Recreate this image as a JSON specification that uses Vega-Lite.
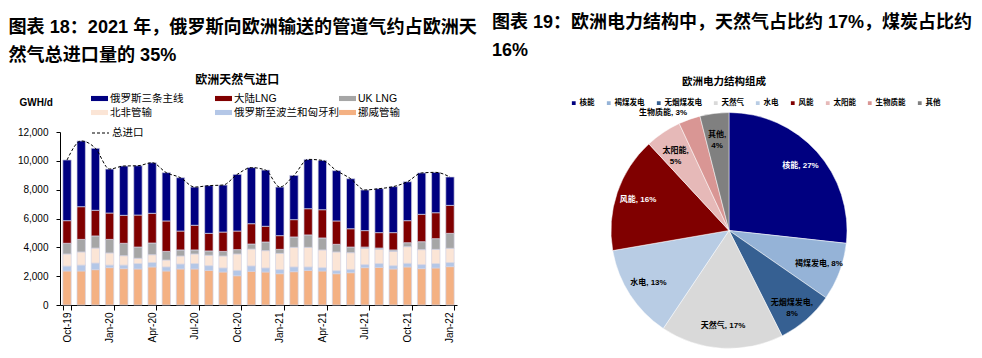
{
  "$schema": "https://vega.github.io/schema/vega-lite/v6.json",
  "background": "white",
  "padding": {"left": 8, "top": 13, "right": 0, "bottom": 0},
  "spacing": 15,
  "config": {
    "font": "Liberation Sans, Noto Sans CJK SC",
    "view": {"stroke": null},
    "title": {"color": "#000", "font": "Liberation Sans, Noto Sans CJK SC"},
    "axis": {"labelColor": "#000", "domainColor": "#000", "tickColor": "#000", "titleColor": "#000", "grid": false},
    "legend": {"labelColor": "#000"}
  },
  "datasets": {
    "series": [
      {"s": "挪威管输", "k": 1},
      {"s": "俄罗斯至波兰和匈牙利", "k": 2},
      {"s": "北非管输", "k": 3},
      {"s": "UK LNG", "k": 4},
      {"s": "大陆LNG", "k": 5},
      {"s": "俄罗斯三条主线", "k": 6}
    ],
    "gas": [
      {"m": "Oct-19", "挪威管输": 2360, "俄罗斯至波兰和匈牙利": 340, "北非管输": 840, "UK LNG": 740, "大陆LNG": 1570, "俄罗斯三条主线": 4210},
      {"m": "Nov-19", "挪威管输": 2360, "俄罗斯至波兰和匈牙利": 410, "北非管输": 910, "UK LNG": 870, "大陆LNG": 2270, "俄罗斯三条主线": 4560},
      {"m": "Dec-19", "挪威管输": 2450, "俄罗斯至波兰和匈牙利": 460, "北非管输": 1040, "UK LNG": 840, "大陆LNG": 1780, "俄罗斯三条主线": 4300},
      {"m": "Jan-20", "挪威管输": 2590, "俄罗斯至波兰和匈牙利": 180, "北非管输": 840, "UK LNG": 940, "大陆LNG": 1830, "俄罗斯三条主线": 3050},
      {"m": "Feb-20", "挪威管输": 2520, "俄罗斯至波兰和匈牙利": 250, "北非管输": 650, "UK LNG": 860, "大陆LNG": 1940, "俄罗斯三条主线": 3420},
      {"m": "Mar-20", "挪威管输": 2500, "俄罗斯至波兰和匈牙利": 370, "北非管输": 370, "UK LNG": 780, "大陆LNG": 2220, "俄罗斯三条主线": 3420},
      {"m": "Apr-20", "挪威管输": 2640, "俄罗斯至波兰和匈牙利": 300, "北非管输": 550, "UK LNG": 810, "大陆LNG": 2060, "俄罗斯三条主线": 3510},
      {"m": "May-20", "挪威管输": 2360, "俄罗斯至波兰和匈牙利": 280, "北非管输": 480, "UK LNG": 600, "大陆LNG": 2110, "俄罗斯三条主线": 3350},
      {"m": "Jun-20", "挪威管输": 2500, "俄罗斯至波兰和匈牙利": 340, "北非管输": 560, "UK LNG": 420, "大陆LNG": 1310, "俄罗斯三条主线": 3700},
      {"m": "Jul-20", "挪威管输": 2500, "俄罗斯至波兰和匈牙利": 370, "北非管输": 670, "UK LNG": 280, "大陆LNG": 1710, "俄罗斯三条主线": 2650},
      {"m": "Aug-20", "挪威管输": 2400, "俄罗斯至波兰和匈牙利": 330, "北非管输": 720, "UK LNG": 300, "大陆LNG": 1220, "俄罗斯三条主线": 3310},
      {"m": "Sep-20", "挪威管输": 2290, "俄罗斯至波兰和匈牙利": 280, "北非管输": 830, "UK LNG": 320, "大陆LNG": 1340, "俄罗斯三条主线": 3260},
      {"m": "Oct-20", "挪威管输": 2030, "俄罗斯至波兰和匈牙利": 370, "北非管输": 1140, "UK LNG": 300, "大陆LNG": 1290, "俄罗斯三条主线": 3930},
      {"m": "Nov-20", "挪威管输": 2340, "俄罗斯至波兰和匈牙利": 370, "北非管输": 1170, "UK LNG": 350, "大陆LNG": 1410, "俄罗斯三条主线": 3890},
      {"m": "Dec-20", "挪威管输": 2290, "俄罗斯至波兰和匈牙利": 280, "北非管输": 1200, "UK LNG": 600, "大陆LNG": 1090, "俄罗斯三条主线": 3900},
      {"m": "Jan-21", "挪威管输": 2170, "俄罗斯至波兰和匈牙利": 280, "北非管输": 1130, "UK LNG": 280, "大陆LNG": 950, "俄罗斯三条主线": 3370},
      {"m": "Feb-21", "挪威管输": 2310, "俄罗斯至波兰和匈牙利": 330, "北非管输": 1360, "UK LNG": 720, "大陆LNG": 1200, "俄罗斯三条主线": 3070},
      {"m": "Mar-21", "挪威管输": 2400, "俄罗斯至波兰和匈牙利": 240, "北非管输": 1360, "UK LNG": 860, "大陆LNG": 1820, "俄罗斯三条主线": 3420},
      {"m": "Apr-21", "挪威管输": 2360, "俄罗斯至波兰和匈牙利": 230, "北非管输": 1230, "UK LNG": 830, "大陆LNG": 1960, "俄罗斯三条主线": 3420},
      {"m": "May-21", "挪威管输": 2170, "俄罗斯至波兰和匈牙利": 210, "北非管输": 1300, "UK LNG": 530, "大陆LNG": 1620, "俄罗斯三条主线": 3490},
      {"m": "Jun-21", "挪威管输": 2240, "俄罗斯至波兰和匈牙利": 230, "北非管输": 1160, "UK LNG": 390, "大陆LNG": 1270, "俄罗斯三条主线": 3470},
      {"m": "Jul-21", "挪威管输": 2590, "俄罗斯至波兰和匈牙利": 210, "北非管输": 1130, "UK LNG": 90, "大陆LNG": 1140, "俄罗斯三条主线": 2820},
      {"m": "Aug-21", "挪威管输": 2610, "俄罗斯至波兰和匈牙利": 260, "北非管输": 990, "UK LNG": 90, "大陆LNG": 1070, "俄罗斯三条主线": 3050},
      {"m": "Sep-21", "挪威管输": 2500, "俄罗斯至波兰和匈牙利": 230, "北非管输": 990, "UK LNG": 100, "大陆LNG": 1200, "俄罗斯三条主线": 3190},
      {"m": "Oct-21", "挪威管输": 2640, "俄罗斯至波兰和匈牙利": 250, "北非管输": 1160, "UK LNG": 270, "大陆LNG": 1530, "俄罗斯三条主线": 2700},
      {"m": "Nov-21", "挪威管输": 2520, "俄罗斯至波兰和匈牙利": 280, "北非管输": 1040, "UK LNG": 550, "大陆LNG": 1900, "俄罗斯三条主线": 2870},
      {"m": "Dec-21", "挪威管输": 2570, "俄罗斯至波兰和匈牙利": 300, "北非管输": 990, "UK LNG": 740, "大陆LNG": 1800, "俄罗斯三条主线": 2800},
      {"m": "Jan-22", "挪威管输": 2660, "俄罗斯至波兰和匈牙利": 280, "北非管输": 990, "UK LNG": 1040, "大陆LNG": 1940, "俄罗斯三条主线": 1970}
    ],
    "power": [
      {"name": "核能", "k": 1, "v": 27, "label": "核能, 27%"},
      {"name": "褐煤发电", "k": 2, "v": 8, "label": "褐煤发电, 8%"},
      {"name": "无烟煤发电", "k": 3, "v": 8, "label": "无烟煤发电,\n8%"},
      {"name": "天然气", "k": 4, "v": 17, "label": "天然气, 17%"},
      {"name": "水电", "k": 5, "v": 13, "label": "水电, 13%"},
      {"name": "风能", "k": 6, "v": 16, "label": "风能, 16%"},
      {"name": "太阳能", "k": 7, "v": 5, "label": "太阳能,\n5%"},
      {"name": "生物质能", "k": 8, "v": 3, "label": "生物质能, 3%"},
      {"name": "其他", "k": 9, "v": 4, "label": "其他,\n4%"}
    ]
  },
  "resolve": {"scale": {"color": "independent"}, "legend": {"color": "independent"}},
  "hconcat": [
    {
      "title": {"text": ["图表 18：2021 年，俄罗斯向欧洲输送的管道气约占欧洲天", "然气总进口量的 35%"], "anchor": "start", "fontSize": 18.1, "fontWeight": "bold", "lineHeight": 28, "offset": 8.5, "dx": -9},
      "vconcat": [
        {
          "title": {"text": "欧洲天然气进口", "anchor": "middle", "frame": "bounds", "fontSize": 12, "fontWeight": "bold", "offset": 10.5},
          "width": 397,
          "height": 173,
          "data": {"name": "gas"},
          "transform": [
            {"fold": ["挪威管输", "俄罗斯至波兰和匈牙利", "北非管输", "UK LNG", "大陆LNG", "俄罗斯三条主线"], "as": ["s", "v"]},
            {"lookup": "s", "from": {"data": {"name": "series"}, "key": "s", "fields": ["k"]}}
          ],
          "encoding": {
            "x": {
              "field": "m", "type": "ordinal", "sort": null,
              "scale": {"paddingInner": 0.41, "paddingOuter": 0.2},
              "axis": {"title": null, "values": ["Oct-19", "Jan-20", "Apr-20", "Jul-20", "Oct-20", "Jan-21", "Apr-21", "Jul-21", "Oct-21", "Jan-22"], "labelAngle": -90, "labelFontSize": 10, "tickBand": "extent", "tickSize": 5, "labelPadding": 2}
            }
          },
          "layer": [
            {
              "mark": {"type": "bar", "stroke": "#d2d2e2", "strokeWidth": 0.7},
              "encoding": {
                "y": {
                  "field": "v", "type": "quantitative", "stack": "zero",
                  "scale": {"domain": [0, 12000]},
                  "axis": {"values": [0, 2000, 4000, 6000, 8000, 10000, 12000], "format": ",d", "labelOverlap": false, "labelFontSize": 10, "tickSize": 4, "labelPadding": 8, "title": "GWH/d", "titleAngle": 0, "titleX": -41, "titleY": -30, "titleAlign": "left", "titleBaseline": "middle", "titleFontSize": 10, "titleFontWeight": "bold"}
                },
                "color": {
                  "field": "s", "type": "nominal",
                  "scale": {"domain": ["俄罗斯三条主线", "大陆LNG", "UK LNG", "北非管输", "俄罗斯至波兰和匈牙利", "挪威管输"], "range": ["#000080", "#800000", "#a6a6a6", "#fbe5d6", "#b4c7e7", "#f4b183"]},
                  "legend": {
                    "orient": "none", "legendX": 31, "legendY": -42, "direction": "horizontal", "columns": 3, "gridAlign": "all", "title": null,
                    "symbolType": "M-1,-0.3H1V0.3H-1Z", "symbolSize": 289, "symbolStrokeWidth": 0, "labelFontSize": 10.5, "labelOffset": 2, "columnPadding": 0, "rowPadding": 0, "padding": 0, "labelLimit": 200
                  }
                },
                "order": {"field": "k", "type": "quantitative"}
              }
            },
            {
              "mark": {"type": "line", "color": "#000000", "strokeWidth": 1, "interpolate": "monotone"},
              "encoding": {
                "y": {
                  "aggregate": "sum", "field": "v", "type": "quantitative",
                  "scale": {"domain": [0, 12000]},
                  "axis": {"values": [0, 2000, 4000, 6000, 8000, 10000, 12000], "format": ",d", "labelOverlap": false, "labelFontSize": 10, "tickSize": 4, "labelPadding": 8, "title": "GWH/d", "titleAngle": 0, "titleX": -41, "titleY": -30, "titleAlign": "left", "titleBaseline": "middle", "titleFontSize": 10, "titleFontWeight": "bold"}
                },
                "strokeDash": {
                  "datum": "总进口",
                  "scale": {"domain": ["总进口"], "range": [[3, 2]]},
                  "legend": {"orient": "none", "legendX": 31, "legendY": -8.5, "title": null, "symbolType": "stroke", "symbolSize": 289, "symbolStrokeColor": "#000000", "symbolStrokeWidth": 1.2, "labelFontSize": 10.5, "labelOffset": 2, "padding": 0}
                }
              }
            }
          ]
        }
      ]
    },
    {
      "title": {"text": ["图表 19：欧洲电力结构中，天然气占比约 17%，煤炭占比约", "16%"], "anchor": "start", "fontSize": 18, "fontWeight": "bold", "lineHeight": 28, "offset": 17},
      "vconcat": [
        {
          "title": {"text": "欧洲电力结构组成", "anchor": "middle", "frame": "group", "fontSize": 10.5, "fontWeight": "bold", "offset": 15, "dx": -5},
          "width": 474,
          "height": 197,
          "data": {"name": "power"},
          "encoding": {
            "theta": {"field": "v", "type": "quantitative", "stack": true},
            "order": {"field": "k", "type": "quantitative"}
          },
          "layer": [
            {
              "mark": {"type": "arc", "outerRadius": 118, "stroke": "white", "strokeWidth": 0.5},
              "encoding": {
                "color": {
                  "field": "name", "type": "nominal",
                  "scale": {"domain": ["核能", "褐煤发电", "无烟煤发电", "天然气", "水电", "风能", "太阳能", "生物质能", "其他"], "range": ["#000080", "#95b3d7", "#366092", "#d9d9d9", "#b8cce4", "#800000", "#e6b9b8", "#d99694", "#808080"]},
                  "legend": {"orient": "none", "legendX": 78, "legendY": -33, "direction": "horizontal", "columns": 9, "title": null, "symbolType": "square", "symbolSize": 28, "labelFontSize": 7.5, "labelFontWeight": "bold", "labelOffset": 2, "columnPadding": 8, "padding": 0}
                }
              }
            },
            {
              "mark": {"type": "text", "radius": 96, "fontSize": 8, "fontWeight": "bold", "lineBreak": "\n", "lineHeight": 11},
              "encoding": {
                "detail": {"field": "name"},
                "text": {"condition": {"test": "datum.name === '生物质能'", "value": ""}, "field": "label"},
                "color": {"condition": {"test": "datum.name === '核能' || datum.name === '风能'", "value": "white"}, "value": "black"}
              }
            },
            {
              "mark": {"type": "text", "radius": 125, "dx": -24, "fontSize": 8, "fontWeight": "bold", "color": "black"},
              "encoding": {
                "detail": {"field": "name"},
                "text": {"condition": {"test": "datum.name !== '生物质能'", "value": ""}, "field": "label"}
              }
            }
          ]
        }
      ]
    }
  ]
}
